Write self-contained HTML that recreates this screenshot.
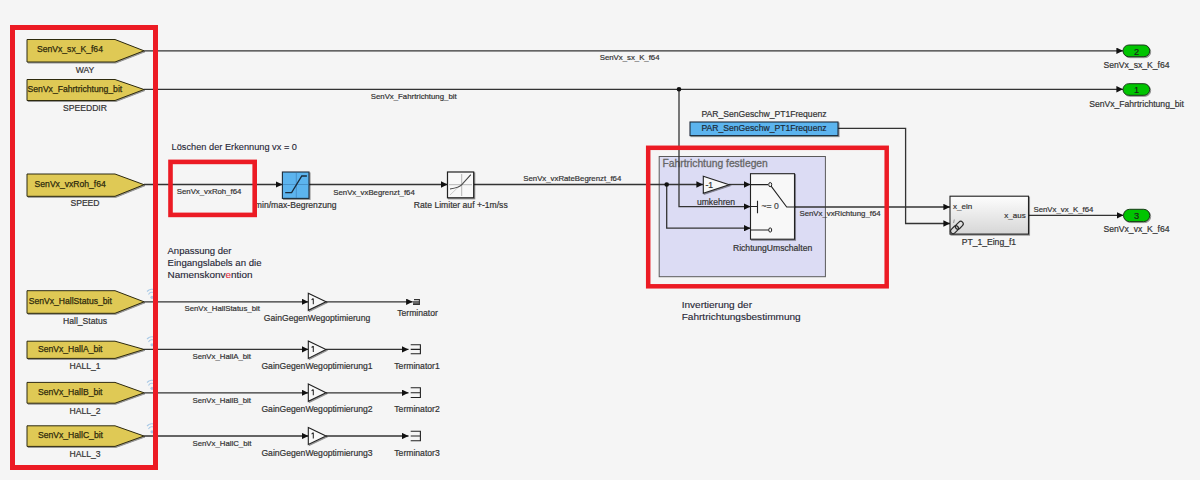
<!DOCTYPE html>
<html><head><meta charset="utf-8">
<style>
html,body{margin:0;padding:0;background:#f5f5f5;width:1200px;height:480px;overflow:hidden}
svg{display:block}
text{font-family:"Liberation Sans",sans-serif;fill:#333}
.tl{font-size:8.6px;fill:#2e2a0c;stroke:#2e2a0c;stroke-width:0.25px}
.ll{font-size:7.8px;fill:#333;stroke:#333;stroke-width:0.2px}
.bl{font-size:8.6px;fill:#333;stroke:#333;stroke-width:0.2px}
.cal{font-size:9.6px;fill:#262636;stroke:#262636;stroke-width:0.12px}
.ln{stroke:#333;stroke-width:1.3;fill:none}
.tag{fill:#dfc954;stroke:#2e2a10;stroke-width:1}
.red{fill:none;stroke:#ec1b24}
.port{fill:#00c400;stroke:#1a3a1a;stroke-width:1}
</style></head><body>
<svg width="1200" height="480" viewBox="0 0 1200 480">
<defs>
<marker id="ar" markerWidth="6.6" markerHeight="6.4" refX="6.6" refY="3.2" orient="auto" markerUnits="userSpaceOnUse">
<path d="M0,0 L6.6,3.2 L0,6.4 Z" fill="#111"/>
</marker>
<linearGradient id="pt1g" x1="0" y1="0" x2="0" y2="1">
<stop offset="0" stop-color="#fdfdfd"/><stop offset="1" stop-color="#d6d6d6"/>
</linearGradient>
<filter id="sh" x="-20%" y="-20%" width="150%" height="150%"><feDropShadow dx="1" dy="1" stdDeviation="0.5" flood-color="#000" flood-opacity="0.4"/></filter>
</defs>

<!-- ===== subsystem area ===== -->
<rect x="659.2" y="156.5" width="166.2" height="120.2" fill="#dcdcf4" stroke="#5a5a5a" stroke-width="1"/>
<text x="662.5" y="166.8" style="font-size:10.3px;fill:#666;stroke:#666;stroke-width:0.3px">Fahrtrichtung festlegen</text>

<!-- ===== signal lines ===== -->
<path class="ln" d="M144,50.8 H1123" marker-end="url(#ar)"/>
<path class="ln" d="M144,89.3 H1123" marker-end="url(#ar)"/>
<path class="ln" d="M679,89.3 V206.6 H750.5" marker-end="url(#ar)"/>
<circle cx="679" cy="89.3" r="2.3" fill="#111"/>
<path class="ln" d="M144,184.5 H282.4" marker-end="url(#ar)"/>
<path class="ln" d="M309,184.5 H447.5" marker-end="url(#ar)"/>
<path class="ln" d="M473.7,184.5 H703" marker-end="url(#ar)"/>
<path class="ln" d="M729,184.5 H750.5" marker-end="url(#ar)"/>
<path class="ln" d="M666.7,184.5 V228.2 H750.5" marker-end="url(#ar)"/>
<circle cx="666.7" cy="184.5" r="2.3" fill="#111"/>
<path class="ln" d="M786.7,207 H950" marker-end="url(#ar)"/>
<path class="ln" d="M838,128.4 H905.6 V223.5 H950" marker-end="url(#ar)"/>
<path class="ln" d="M1028.5,215.3 H1123.5" marker-end="url(#ar)"/>

<path class="ln" d="M144,301.8 H308.3" marker-end="url(#ar)"/>
<path class="ln" d="M326,301.8 H412.7" marker-end="url(#ar)"/>
<path class="ln" d="M144,349.4 H308.3" marker-end="url(#ar)"/>
<path class="ln" d="M326,349.4 H408.5" marker-end="url(#ar)"/>
<path class="ln" d="M144,392.8 H308.3" marker-end="url(#ar)"/>
<path class="ln" d="M326,392.8 H408.5" marker-end="url(#ar)"/>
<path class="ln" d="M144,436 H308.3" marker-end="url(#ar)"/>
<path class="ln" d="M326,436 H408.5" marker-end="url(#ar)"/>

<!-- ===== goto tags ===== -->
<path class="tag" filter="url(#sh)" d="M27,39.5 H115 L144,50.8 L115,62 H27 Z"/>
<path class="tag" filter="url(#sh)" d="M27,79.5 H115 L144,89.5 L115,100.5 H27 Z"/>
<path class="tag" filter="url(#sh)" d="M27,174 H115 L144,184.7 L115,196.3 H27 Z"/>
<path class="tag" filter="url(#sh)" d="M27,290.7 H115 L144,301.8 L115,313.3 H27 Z"/>
<path class="tag" filter="url(#sh)" d="M27,341.2 H115 L144,349.4 L115,358.4 H27 Z"/>
<path class="tag" filter="url(#sh)" d="M27,382.4 H115 L144,392.8 L115,403.2 H27 Z"/>
<path class="tag" filter="url(#sh)" d="M27,425.8 H115 L144,436 L115,446.4 H27 Z"/>

<text class="tl" x="37" y="52.4">SenVx_sx_K_f64</text>
<text class="tl" x="27.6" y="92.2">SenVx_Fahrtrichtung_bit</text>
<text class="tl" x="34.6" y="187.2">SenVx_vxRoh_f64</text>
<text class="tl" x="28.7" y="304">SenVx_HallStatus_bit</text>
<text class="tl" x="38" y="352.2">SenVx_HallA_bit</text>
<text class="tl" x="38" y="395.3">SenVx_HallB_bit</text>
<text class="tl" x="38" y="438.4">SenVx_HallC_bit</text>

<text class="bl" x="85" y="73.2" text-anchor="middle">WAY</text>
<text class="bl" x="85" y="111.2" text-anchor="middle">SPEEDDIR</text>
<text class="bl" x="85" y="206.4" text-anchor="middle">SPEED</text>
<text class="bl" x="85" y="324" text-anchor="middle">Hall_Status</text>
<text class="bl" x="85" y="369" text-anchor="middle">HALL_1</text>
<text class="bl" x="85" y="414" text-anchor="middle">HALL_2</text>
<text class="bl" x="85" y="457" text-anchor="middle">HALL_3</text>

<!-- ===== line labels ===== -->
<text class="ll" x="599.7" y="60.4">SenVx_sx_K_f64</text>
<text class="ll" x="370.8" y="99">SenVx_Fahrtrichtung_bit</text>
<text class="ll" x="176.8" y="194.2">SenVx_vxRoh_f64</text>
<text class="ll" x="333.3" y="194.7">SenVx_vxBegrenzt_f64</text>
<text class="ll" x="523.3" y="181.2">SenVx_vxRateBegrenzt_f64</text>
<text class="ll" x="799.5" y="215.8">SenVx_vxRichtung_f64</text>
<text class="ll" x="1033.5" y="211.8">SenVx_vx_K_f64</text>
<text class="ll" x="184.5" y="310.8">SenVx_HallStatus_bit</text>
<text class="ll" x="192.5" y="358.7">SenVx_HallA_bit</text>
<text class="ll" x="192.5" y="402.5">SenVx_HallB_bit</text>
<text class="ll" x="192.5" y="445.7">SenVx_HallC_bit</text>

<!-- ===== ports ===== -->
<rect class="port" filter="url(#sh)" x="1123" y="45" width="26.7" height="11.7" rx="5.8"/>
<rect class="port" filter="url(#sh)" x="1123" y="83.7" width="26.7" height="11.6" rx="5.8"/>
<rect class="port" filter="url(#sh)" x="1123.5" y="209.3" width="26.2" height="12.3" rx="6"/>
<text class="bl" x="1136.5" y="54.5" text-anchor="middle" style="fill:#111;font-size:9.2px">2</text>
<text class="bl" x="1136.5" y="93.2" text-anchor="middle" style="fill:#111;font-size:9.2px">1</text>
<text class="bl" x="1136.5" y="219" text-anchor="middle" style="fill:#111;font-size:9.2px">3</text>
<text class="bl" x="1136.5" y="67.5" text-anchor="middle">SenVx_sx_K_f64</text>
<text class="bl" x="1136.5" y="107" text-anchor="middle">SenVx_Fahrtrichtung_bit</text>
<text class="bl" x="1136.5" y="231.7" text-anchor="middle">SenVx_vx_K_f64</text>

<!-- ===== saturation ===== -->
<rect filter="url(#sh)" x="282.4" y="172" width="26.6" height="26.4" fill="#5cb4ee" stroke="#1d2d3a" stroke-width="1.1"/>
<path d="M296.3,173 V198 M283,184.5 H308.5" stroke="#3a7ab0" stroke-width="0.6" fill="none"/>
<path d="M285.2,192.6 H291.6 L301.8,176 H306.9" stroke="#1a2c3c" stroke-width="1.3" fill="none"/>
<text class="bl" x="295.7" y="208.2" text-anchor="middle">min/max-Begrenzung</text>

<!-- ===== rate limiter ===== -->
<rect filter="url(#sh)" x="447.5" y="172" width="26.2" height="25.8" fill="#f8f8f8" stroke="#222" stroke-width="1.2"/>
<path d="M461.7,174 V196 M449,184.7 H472" stroke="#999" stroke-width="0.7" fill="none"/>
<path d="M450,195 L471,175" stroke="#aaa" stroke-width="0.6" fill="none"/>
<path d="M450,189 C456,188 460,187 462,184.5 L470.8,174.7" stroke="#444" stroke-width="1.1" fill="none"/>
<text class="bl" x="460.8" y="208" text-anchor="middle">Rate Limiter auf +-1m/ss</text>

<!-- ===== PAR constant ===== -->
<rect filter="url(#sh)" x="690" y="122" width="148" height="13.6" fill="#5cb4ee" stroke="#1d2d3a" stroke-width="1.1"/>
<text class="bl" x="764" y="131.2" text-anchor="middle" style="fill:#10263a">PAR_SenGeschw_PT1Frequenz</text>
<text class="bl" x="764" y="117.2" text-anchor="middle">PAR_SenGeschw_PT1Frequenz</text>


<!-- ===== gain -1 ===== -->
<path filter="url(#sh)" d="M703.3,176.3 L729.2,184.7 L703.3,193.3 Z" fill="#f8f8f8" stroke="#222" stroke-width="1.1"/>
<text class="bl" x="705.5" y="187.8" style="font-size:8.6px">-1</text>
<text class="bl" x="716" y="204.7" text-anchor="middle">umkehren</text>

<!-- ===== switch ===== -->
<rect filter="url(#sh)" x="750.5" y="173.7" width="44" height="65.5" fill="#f8f8f8" stroke="#222" stroke-width="1.1"/>
<path d="M750.5,184.6 H768 M770,184.6 L786.7,207 H795 M750.5,206.5 H757.5 M757.5,200.8 V213.3 M750.5,230 H768.5" stroke="#222" stroke-width="1.1" fill="none"/>
<ellipse cx="770.2" cy="184.6" rx="1.5" ry="2.1" fill="#f8f8f8" stroke="#222" stroke-width="1"/>
<ellipse cx="770.2" cy="230" rx="1.5" ry="2.1" fill="#f8f8f8" stroke="#222" stroke-width="1"/>
<text class="bl" x="761.5" y="208.8" style="font-size:8.6px;fill:#444;stroke:#444">~= 0</text>
<text class="bl" x="772.6" y="251" text-anchor="middle">RichtungUmschalten</text>

<!-- ===== PT1 ===== -->
<rect filter="url(#sh)" x="950" y="196.2" width="78.5" height="37.9" fill="url(#pt1g)" stroke="#222" stroke-width="1.1"/>
<text class="bl" x="953" y="209.3" style="font-size:8px">x_ein</text>
<text class="bl" x="1025.7" y="217.8" text-anchor="end" style="font-size:8px">x_aus</text>
<path d="M954.3,219.5 L953.6,223" stroke="#888" stroke-width="0.9"/>
<g stroke="#2a2a2a" stroke-width="1.15" fill="none"><rect x="950" y="227.2" width="9" height="5" rx="2.5" transform="rotate(-45 954.5 229.7)"/><rect x="954.8" y="222.8" width="9" height="5" rx="2.5" transform="rotate(-45 959.3 225.3)"/></g>
<text class="bl" x="988.9" y="244.8" text-anchor="middle">PT_1_Eing_f1</text>

<!-- ===== hall gains & terminators ===== -->
<g fill="#f8f8f8" stroke="#222" stroke-width="1.1" filter="url(#sh)">
<path d="M308.3,293.3 L326,301.8 L308.3,310.3 Z"/>
<path d="M308.3,341 L326,349.4 L308.3,358.4 Z"/>
<path d="M308.3,384 L326,392.8 L308.3,401.3 Z"/>
<path d="M308.3,427.5 L326,436 L308.3,444.4 Z"/>
</g>
<path d="M313.3,298.4 V304.3 M313.3,298.5 L311.6,299.9 M313.3,346.0 V351.9 M313.3,346.1 L311.6,347.5 M313.3,389.4 V395.3 M313.3,389.5 L311.6,390.9 M313.3,432.6 V438.5 M313.3,432.7 L311.6,434.1 " stroke="#262626" stroke-width="1.05" fill="none"/>
<rect x="413" y="301" width="6.3" height="3.5" fill="#6a6a6a"/><path d="M414,299.6 H419.4 V304.4 H413" stroke="#333" stroke-width="1.1" fill="none"/>
<path d="M410.7,344.8 H420.4 V353.8 H410.7 M410.7,349.4 H420.4" stroke="#222" stroke-width="1.1" fill="none"/>
<path d="M410.7,387.8 H420.4 V397.5 H410.7 M410.7,392.8 H420.4" stroke="#222" stroke-width="1.1" fill="none"/>
<path d="M410.7,431.2 H420.4 V440.8 H410.7 M410.7,436 H420.4" stroke="#222" stroke-width="1.1" fill="none"/>
<text class="bl" x="317" y="321" text-anchor="middle">GainGegenWegoptimierung</text>
<text class="bl" x="317" y="369" text-anchor="middle">GainGegenWegoptimierung1</text>
<text class="bl" x="317" y="412" text-anchor="middle">GainGegenWegoptimierung2</text>
<text class="bl" x="317" y="455.7" text-anchor="middle">GainGegenWegoptimierung3</text>
<text class="bl" x="417.5" y="316.3" text-anchor="middle">Terminator</text>
<text class="bl" x="417" y="369" text-anchor="middle">Terminator1</text>
<text class="bl" x="417" y="412" text-anchor="middle">Terminator2</text>
<text class="bl" x="417" y="455.7" text-anchor="middle">Terminator3</text>

<!-- ===== annotations ===== -->
<text class="cal" x="171.6" y="149.7" style="font-size:9.2px" textLength="125.4" lengthAdjust="spacingAndGlyphs">Löschen der Erkennung vx = 0</text>
<text class="cal" x="167.5" y="253.5" style="font-size:8.6px" textLength="64" lengthAdjust="spacingAndGlyphs">Anpassung der</text>
<text class="cal" x="167.5" y="265.5" style="font-size:8.6px" textLength="94" lengthAdjust="spacingAndGlyphs">Eingangslabels an die</text>
<text class="cal" x="167.5" y="277.8" style="font-size:8.6px" textLength="85" lengthAdjust="spacingAndGlyphs">Namenskonv<tspan style="fill:#e03040;stroke:#e03040">e</tspan>ntion</text>
<text class="cal" x="681.7" y="308" style="font-size:8.7px" textLength="70.3" lengthAdjust="spacingAndGlyphs">Invertierung der</text>
<text class="cal" x="681.7" y="320" style="font-size:8.7px" textLength="119" lengthAdjust="spacingAndGlyphs">Fahrtrichtungsbestimmung</text>

<!-- ===== wifi icons ===== -->
<g stroke="#a9c9e6" stroke-width="1.1" fill="none">
<path d="M148.5,294.5 A4,4 0 0 1 155,293.5 M147,291.5 A7,7 0 0 1 156,290.5"/>
<path d="M148.5,342 A4,4 0 0 1 155,341 M147,339 A7,7 0 0 1 156,338"/>
<path d="M148.5,385.5 A4,4 0 0 1 155,384.5 M147,382.5 A7,7 0 0 1 156,381.5"/>
<path d="M148.5,429 A4,4 0 0 1 155,428 M147,426 A7,7 0 0 1 156,425"/>
</g>
<g fill="#a9c9e6"><circle cx="152" cy="297.3" r="1.6"/><circle cx="152" cy="344.8" r="1.6"/><circle cx="152" cy="388.3" r="1.6"/><circle cx="152" cy="431.8" r="1.6"/></g>

<!-- ===== red boxes ===== -->
<rect class="red" x="12.5" y="27.5" width="143" height="440" stroke-width="5"/>
<rect class="red" x="170.5" y="161.9" width="84.2" height="53" stroke-width="4.6"/>
<rect class="red" x="648.2" y="147.8" width="238.5" height="138.5" stroke-width="4.5"/>
</svg>
</body></html>
